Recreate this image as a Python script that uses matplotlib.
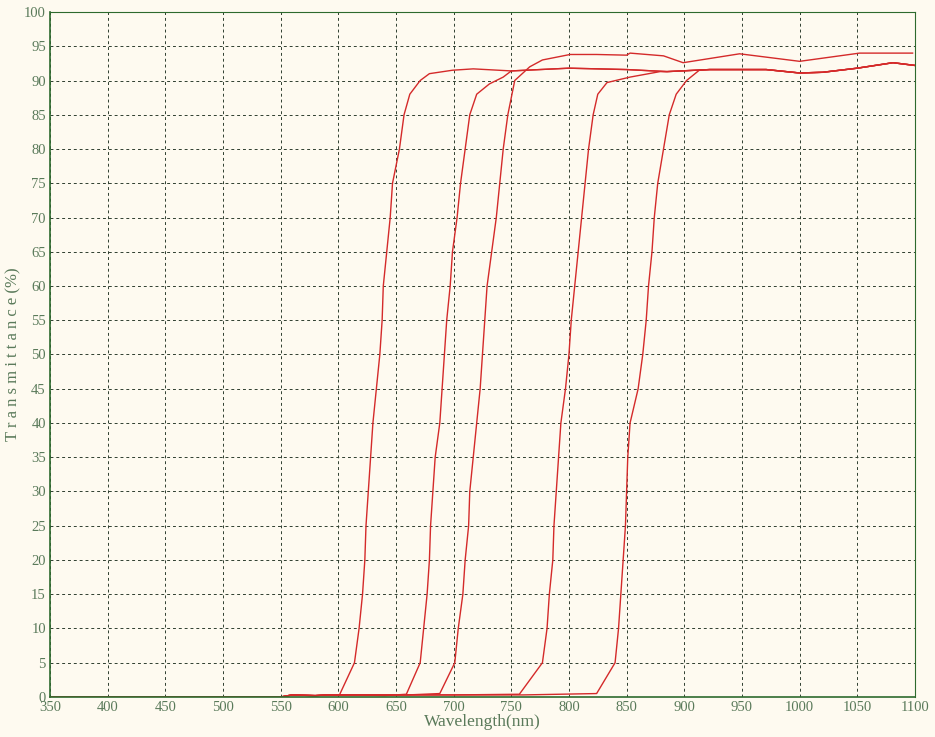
import matplotlib; matplotlib.use("Agg")
import matplotlib.pyplot as plt
import numpy as np

# shared plateau (wavelength, T%)
tail_w = [750, 800, 850, 885, 922, 971, 1000, 1020, 1050, 1081, 1100]
tail_t = [91.4, 91.8, 91.6, 91.3, 91.6, 91.6, 91.1, 91.2, 91.8, 92.6, 92.2]

base_w = [350, 550, 560, 580, 590]
base_t = [0.0, 0.0, 0.3, 0.2, 0.3]

c1_w = [601, 614, 618, 621, 623, 624, 626, 628, 630, 633, 636, 638, 639, 642, 645, 647, 653, 657, 662, 671, 679, 699, 717]
c1_t = [0.3, 5, 10, 15, 20, 25, 30, 35, 40, 45, 50, 55, 60, 65, 70, 75, 80, 85, 88, 90, 91, 91.5, 91.7]

c2_w = [620, 640, 659, 671, 674, 677, 679, 680, 682, 684, 688, 690, 692, 694, 697, 699, 703, 706, 710, 714, 720, 731, 743]
c2_t = [0.3, 0.2, 0.4, 5, 10, 15, 20, 25, 30, 35, 40, 45, 50, 55, 60, 65, 70, 75, 80, 85, 88, 89.5, 90.5]

c3_w = [620, 660, 688, 701, 704, 708, 710, 713, 714, 717, 720, 723, 725, 727, 729, 733, 737, 740, 743, 747, 753, 766, 777,
        801, 824, 850, 853, 882, 899, 948, 1000, 1052, 1098]
c3_t = [0.3, 0.3, 0.5, 5, 10, 15, 20, 25, 30, 35, 40, 45, 50, 55, 60, 65, 70, 75, 80, 85, 90, 92, 93,
        93.8, 93.8, 93.7, 94.0, 93.6, 92.6, 93.9, 92.8, 94.0, 94.0]

c4_w = [620, 700, 757, 777, 781, 783, 786, 787, 789, 791, 793, 797, 800, 802, 805, 808, 811, 814, 817, 821, 825, 833, 853, 879]
c4_t = [0.3, 0.3, 0.4, 5, 10, 15, 20, 25, 30, 35, 40, 45, 50, 55, 60, 65, 70, 75, 80, 85, 88, 89.7, 90.5, 91.3]

c5_w = [620, 760, 824, 840, 843, 845, 847, 849, 850, 851, 853, 860, 864, 867, 869, 872, 874, 877, 882, 887, 893, 902, 913]
c5_t = [0.3, 0.3, 0.5, 5, 10, 15, 20, 25, 30, 35, 40, 45, 50, 55, 60, 65, 70, 75, 80, 85, 88, 90, 91.5]

BG = "#fefaf0"; TXT = "#5a7a5a"; RED = "#d42a2a"
fig = plt.figure(figsize=(9.35, 7.37), dpi=100, facecolor=BG)
ax = fig.add_axes([0.0535, 0.0543, 0.925, 0.9294], facecolor=BG)

def full(cw, ct, with_tail=True):
    w = base_w + cw; t = base_t + ct
    if with_tail:
        for a, b in zip(tail_w, tail_t):
            if a > w[-1] + 5:
                w.append(a); t.append(b)
    return w, t

for cw, ct, tl in [(c1_w, c1_t, True), (c2_w, c2_t, True), (c3_w, c3_t, False),
                   (c4_w, c4_t, True), (c5_w, c5_t, True)]:
    w, t = full(cw, ct, tl)
    ax.plot(w, t, color=RED, lw=1.0)

ax.set_xlim(350, 1100); ax.set_ylim(0, 100)
ax.set_xticks(np.arange(350, 1101, 50)); ax.set_yticks(np.arange(0, 101, 5))
ax.grid(True, color="#2f3f2f", ls=(0, (3, 3)), lw=0.7)
ax.tick_params(length=0, labelsize=10.5, colors=TXT, pad=3)
for lab in ax.get_xticklabels() + ax.get_yticklabels():
    lab.set_fontfamily("Liberation Serif")
for s in ["left", "bottom"]:
    ax.spines[s].set_color("#2e6a2e"); ax.spines[s].set_linewidth(1.2)
for s in ["top", "right"]:
    ax.spines[s].set_color("#2e6a2e"); ax.spines[s].set_linewidth(0.8)
ax.set_xlabel("Wavelength(nm)", family="Liberation Serif", fontsize=12.5, color=TXT, labelpad=0)
ax.set_ylabel("T r a n s m i t t a n c e (%)", family="Liberation Serif", fontsize=12, color=TXT, labelpad=2)
fig.savefig("out.png", dpi=100, facecolor=BG)
